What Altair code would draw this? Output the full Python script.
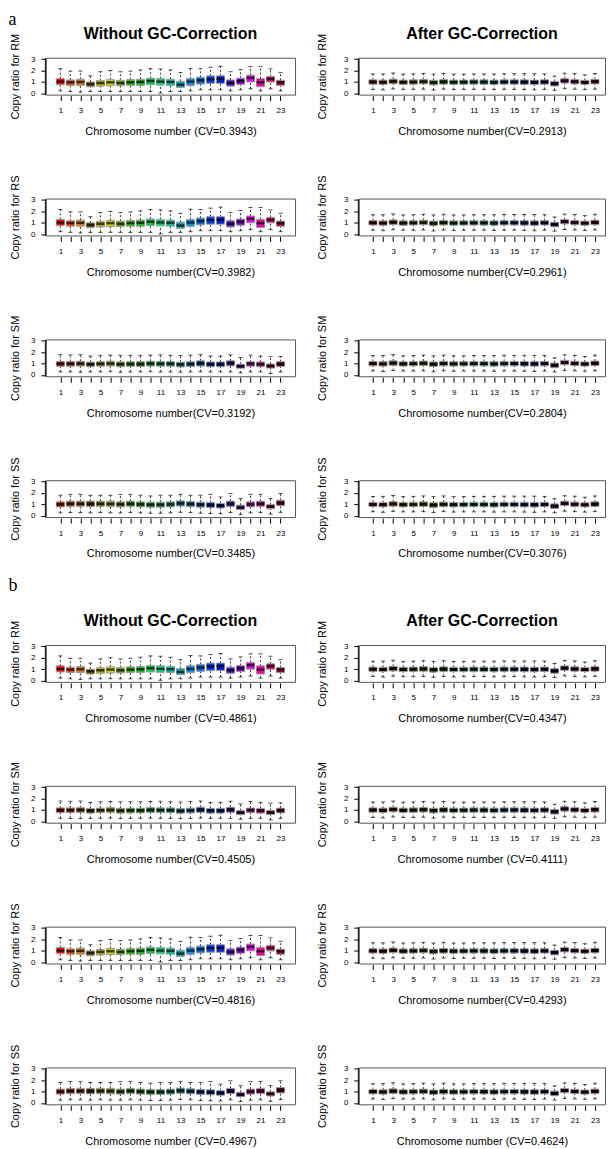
import altair as alt
import pandas as pd

CHROM = list(range(1, 24))

PALETTE = ["#ff0000", "#f04a10", "#e07a10", "#7a5c00", "#c0b000", "#c8d800",
           "#6cb000", "#34c000", "#14c020", "#00d040", "#00d878", "#00c4a4",
           "#00a8b8", "#0090e8", "#0068e0", "#0040f0", "#0020e0", "#5010d0",
           "#8000c8", "#e800e8", "#f000a8", "#d00070", "#a00030"]

# --- left panels, bright (RM / RS without GC correction) ---
LB_LO = [0.21, 0.15, 0.10, 0.15, 0.15, 0.15, 0.15, 0.15, 0.15, 0.15, 0.02, 0.15,
         0.15, 0.21, 0.30, 0.30, 0.30, 0.21, 0.30, 0.39, 0.21, 0.39, 0.21]
LB_Q1 = [0.75, 0.69, 0.69, 0.57, 0.63, 0.66, 0.66, 0.69, 0.69, 0.75, 0.72, 0.69,
         0.51, 0.69, 0.81, 0.87, 0.87, 0.63, 0.78, 0.99, 0.57, 0.99, 0.69]
LB_MED = [1.02, 0.96, 0.99, 0.81, 0.90, 0.96, 0.90, 0.96, 0.99, 1.08, 1.02, 0.99,
          0.75, 1.02, 1.14, 1.23, 1.26, 0.90, 1.08, 1.35, 0.96, 1.26, 0.96]
LB_Q3 = [1.29, 1.17, 1.23, 0.99, 1.11, 1.20, 1.14, 1.20, 1.23, 1.32, 1.29, 1.23,
         1.05, 1.29, 1.41, 1.53, 1.53, 1.17, 1.32, 1.59, 1.29, 1.47, 1.14]
LB_HI = [2.16, 1.95, 1.95, 1.53, 1.89, 2.00, 1.89, 1.95, 2.04, 2.16, 2.13, 2.04,
         1.83, 2.19, 2.16, 2.28, 2.37, 1.89, 2.07, 2.34, 2.34, 2.13, 1.83]

# --- left panels SM without GC correction ---
SM_LO = [0.26, 0.26, 0.24, 0.26, 0.26, 0.28, 0.24, 0.26, 0.26, 0.28, 0.26, 0.26,
         0.24, 0.26, 0.28, 0.26, 0.26, 0.26, 0.18, 0.26, 0.26, 0.12, 0.26]
SM_Q1 = [0.76, 0.76, 0.78, 0.72, 0.76, 0.78, 0.72, 0.74, 0.74, 0.78, 0.76, 0.76,
         0.70, 0.74, 0.78, 0.72, 0.72, 0.79, 0.59, 0.76, 0.72, 0.60, 0.74]
SM_MED = [0.98, 0.98, 1.00, 0.95, 0.98, 1.00, 0.94, 0.96, 0.96, 1.00, 0.98, 0.98,
          0.92, 0.96, 1.02, 0.94, 0.94, 1.04, 0.76, 1.00, 0.94, 0.78, 0.96]
SM_Q3 = [1.18, 1.18, 1.20, 1.12, 1.16, 1.20, 1.14, 1.16, 1.16, 1.20, 1.18, 1.18,
         1.12, 1.16, 1.24, 1.14, 1.14, 1.24, 0.94, 1.16, 1.14, 0.96, 1.16]
SM_HI = [1.78, 1.76, 1.78, 1.66, 1.72, 1.74, 1.72, 1.72, 1.72, 1.74, 1.76, 1.72,
         1.70, 1.74, 1.78, 1.66, 1.66, 1.76, 1.53, 1.74, 1.66, 1.60, 1.62]

# --- left panels SS without GC correction ---
SS_LO = [0.25, 0.28, 0.28, 0.25, 0.28, 0.25, 0.25, 0.28, 0.25, 0.22, 0.22, 0.25,
         0.30, 0.28, 0.22, 0.20, 0.18, 0.28, 0.12, 0.25, 0.28, 0.15, 0.30]
SS_Q1 = [0.78, 0.82, 0.82, 0.80, 0.82, 0.80, 0.78, 0.82, 0.78, 0.75, 0.75, 0.78,
         0.85, 0.80, 0.75, 0.72, 0.68, 0.82, 0.55, 0.78, 0.82, 0.62, 0.88]
SS_MED = [1.00, 1.05, 1.05, 1.04, 1.05, 1.04, 1.00, 1.05, 1.00, 0.97, 0.97, 1.00,
          1.08, 1.02, 0.97, 0.94, 0.88, 1.05, 0.72, 1.00, 1.05, 0.80, 1.12]
SS_Q3 = [1.22, 1.28, 1.28, 1.28, 1.28, 1.28, 1.22, 1.28, 1.22, 1.19, 1.19, 1.22,
         1.31, 1.25, 1.19, 1.16, 1.08, 1.28, 0.93, 1.22, 1.28, 0.98, 1.36]
SS_HI = [1.80, 1.88, 1.88, 1.80, 1.80, 1.80, 1.88, 1.88, 1.80, 1.74, 1.80, 1.80,
         1.88, 1.80, 1.80, 1.88, 1.65, 1.95, 1.52, 1.88, 1.88, 1.52, 1.95]

# --- right panels, after GC correction ---
GC_LO = [0.34, 0.30, 0.38, 0.34, 0.34, 0.36, 0.28, 0.36, 0.32, 0.34, 0.34, 0.34,
         0.32, 0.34, 0.34, 0.32, 0.30, 0.34, 0.26, 0.40, 0.36, 0.32, 0.36]
GC_Q1 = [0.80, 0.78, 0.84, 0.78, 0.80, 0.82, 0.74, 0.80, 0.78, 0.79, 0.80, 0.79,
         0.77, 0.80, 0.80, 0.78, 0.77, 0.80, 0.64, 0.90, 0.82, 0.78, 0.82]
GC_MED = [0.99, 0.97, 1.04, 0.97, 0.98, 1.01, 0.95, 1.00, 0.97, 0.98, 0.98, 0.98,
          0.97, 0.99, 0.99, 0.98, 0.97, 0.99, 0.85, 1.08, 1.01, 0.96, 1.02]
GC_Q3 = [1.18, 1.16, 1.24, 1.16, 1.18, 1.22, 1.14, 1.20, 1.16, 1.16, 1.18, 1.18,
         1.16, 1.18, 1.18, 1.18, 1.16, 1.18, 1.04, 1.28, 1.20, 1.14, 1.22]
GC_HI = [1.70, 1.70, 1.78, 1.68, 1.70, 1.74, 1.68, 1.74, 1.68, 1.68, 1.70, 1.70,
         1.70, 1.72, 1.72, 1.72, 1.72, 1.70, 1.50, 1.76, 1.72, 1.62, 1.74]

LB = (LB_LO, LB_Q1, LB_MED, LB_Q3, LB_HI)
SM = (SM_LO, SM_Q1, SM_MED, SM_Q3, SM_HI)
SS = (SS_LO, SS_Q1, SS_MED, SS_Q3, SS_HI)
GC = (GC_LO, GC_Q1, GC_MED, GC_Q3, GC_HI)

SECTION_A = [
    ("RM", "Chromosome number (CV=0.3943)", LB, 1.0, "Chromosome number(CV=0.2913)", GC, 0.35),
    ("RS", "Chromosome number(CV=0.3982)", LB, 1.0, "Chromosome number(CV=0.2961)", GC, 0.35),
    ("SM", "Chromosome number(CV=0.3192)", SM, 0.6, "Chromosome number(CV=0.2804)", GC, 0.3),
    ("SS", "Chromosome number(CV=0.3485)", SS, 0.62, "Chromosome number(CV=0.3076)", GC, 0.3),
]
SECTION_B = [
    ("RM", "Chromosome number (CV=0.4861)", LB, 1.0, "Chromosome number(CV=0.4347)", GC, 0.22),
    ("SM", "Chromosome number(CV=0.4505)", SM, 0.55, "Chromosome number (CV=0.4111)", GC, 0.22),
    ("RS", "Chromosome number(CV=0.4816)", LB, 1.0, "Chromosome number(CV=0.4293)", GC, 0.22),
    ("SS", "Chromosome number (CV=0.4967)", SS, 0.5, "Chromosome number (CV=0.4624)", GC, 0.22),
]

FONT = "Liberation Sans"
LEFT_DOMAIN = [-0.45, 24.45]
RIGHT_DOMAIN = [-0.4, 24.0]


def shade(hexc, f):
    r, g, b = int(hexc[1:3], 16), int(hexc[3:5], 16), int(hexc[5:7], 16)
    return "#%02x%02x%02x" % (round(r * f), round(g * f), round(b * f))


def panel(stats, f, ylab, xlab, title, tpad, width, xdom):
    lo, q1, med, q3, hi = stats
    df = pd.DataFrame({"chrom": CHROM, "lo": lo, "q1": q1, "med": med,
                       "q3": q3, "hi": hi,
                       "fill": [shade(c, f) for c in PALETTE]})
    xs = alt.Scale(domain=xdom, nice=False, zero=False, padding=0)
    ys = alt.Scale(domain=[-0.12, 3.12], nice=False, zero=False, padding=0)
    xaxis = alt.Axis(values=CHROM, title=xlab,
                     labelExpr="datum.value % 2 == 1 ? datum.label : ''",
                     tickSize=5, offset=1, labelPadding=6, titlePadding=11,
                     grid=False, domain=False, labelOverlap=False, labelFlush=False)
    yaxis = alt.Axis(values=[0, 1, 2, 3], title=ylab, tickSize=4, offset=1,
                     labelPadding=6, titlePadding=tpad, grid=False, domain=True,
                     labelOverlap=False, labelFlush=False)

    def X():
        return alt.X("chrom:Q", scale=xs, axis=xaxis)

    def Y(field):
        return alt.Y(field + ":Q", scale=ys, axis=yaxis)

    base = alt.Chart(df)
    low_w = base.mark_rule(color="black", strokeWidth=0.8, strokeDash=[2, 2]).encode(
        x=X(), y=Y("lo"), y2="q1:Q")
    up_w = base.mark_rule(color="black", strokeWidth=0.8, strokeDash=[2, 2]).encode(
        x=X(), y=Y("q3"), y2="hi:Q")
    lo_cap = base.mark_tick(color="black", size=4, thickness=1, orient="horizontal").encode(
        x=X(), y=Y("lo"))
    hi_cap = base.mark_tick(color="black", size=4, thickness=1, orient="horizontal").encode(
        x=X(), y=Y("hi"))
    box = base.mark_bar(size=8, stroke="#9a9a9a", strokeWidth=1).encode(
        x=X(), y=Y("q1"), y2="q3:Q", fill=alt.Fill("fill:N", scale=None))
    med_t = base.mark_tick(color="black", size=8, thickness=2.5, orient="horizontal").encode(
        x=X(), y=Y("med"))
    props = dict(width=width, height=37)
    if title:
        props["title"] = alt.TitleParams(text=title, frame="group", anchor="middle",
                                         offset=-8.5, font=FONT, fontSize=16,
                                         fontWeight="bold", color="black")
    return alt.layer(low_w, up_w, lo_cap, hi_cap, box, med_t).properties(**props)


def section(rows, label, label_offset):
    charts = []
    for i, (code, xl_l, st_l, f_l, xl_r, st_r, f_r) in enumerate(rows):
        ylab = "Copy ratio for " + code
        charts.append(panel(st_l, f_l, ylab, xl_l,
                            "Without GC-Correction" if i == 0 else None,
                            10.5, 250, LEFT_DOMAIN))
        charts.append(panel(st_r, f_r, ylab, xl_r,
                            "After GC-Correction" if i == 0 else None,
                            16.3, 247, RIGHT_DOMAIN))
    return alt.ConcatChart(
        concat=charts, columns=2, bounds="flush",
        spacing={"row": 104.3, "column": 64},
        title=alt.TitleParams(text=label, anchor="start", frame="bounds",
                              offset=label_offset, font="Liberation Serif",
                              fontSize=18, fontWeight="normal", color="black"))


chart = alt.vconcat(
    section(SECTION_A, "a", -3.3),
    section(SECTION_B, "b", 17.6),
    spacing=16.2,
).properties(padding=0, background="white").configure_view(
    stroke="#555555", strokeWidth=1
).configure_axis(
    labelFont=FONT, titleFont=FONT, labelFontSize=8, titleFontSize=11,
    titleFontWeight="normal", labelColor="black", titleColor="black",
    tickColor="black", domainColor="black", tickWidth=1, domainWidth=1
)

chart.save("out.html", embed_options={"renderer": "svg", "actions": False})
